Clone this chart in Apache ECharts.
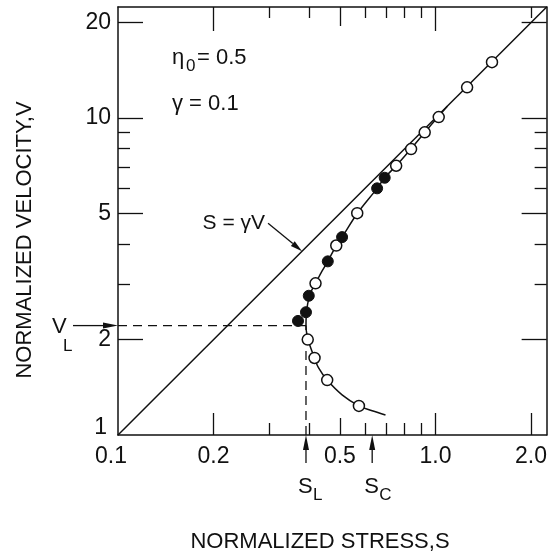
<!DOCTYPE html>
<html><head><meta charset="utf-8">
<script src="https://cdn.jsdelivr.net/npm/echarts@6/dist/echarts.min.js"></script>
<style>html,body{margin:0;padding:0;background:#fff}#c{width:550px;height:556px}</style>
</head><body><div id="c"></div>
<script>
// ---- axis ranges and ticks ----
const xRange = [0.1, 2.24];
const yRange = [1, 22.4];
const xLabelValues = [0.1, 0.2, 0.5, 1.0, 2.0];
const xLabelTexts = ['0.1', '0.2', '0.5', '1.0', '2.0'];
const xMajorTicks = [0.2, 1.0, 2.0];
const xMidTicks = [0.5];
const xMinorTicks = [0.3, 0.4, 0.6, 0.7, 0.8, 0.9];
const xTopMajorTicks = [0.2, 1.0];
const xTopMinorTicks = [0.3, 0.4, 0.6, 0.7, 0.8, 0.9, 2.0];
const yLabelValues = [1, 2, 5, 10, 20];
const yLabelTexts = ['1', '2', '5', '10', '20'];
const yMajorTicks = [2, 5, 10, 20];
const yMinorTicks = [3, 4, 6, 7, 8, 9];

// ---- data ----
const lineSV = [[0.1, 1], [2.24, 22.4]];            // S = gamma V, gamma = 0.1
const curveS = [0.696, 0.632, 0.574, 0.508, 0.456, 0.428, 0.416, 0.402, 0.394, 0.391, 0.392, 0.396, 0.405, 0.419, 0.44, 0.458, 0.487, 0.508, 0.567, 0.655, 0.692, 0.752, 0.838, 0.925, 1.02, 1.09];
const curveV = [1.157, 1.193, 1.235, 1.338, 1.49, 1.63, 1.75, 1.92, 2.06, 2.21, 2.40, 2.60, 2.82, 3.01, 3.30, 3.53, 3.96, 4.21, 5.0, 6.0, 6.48, 7.07, 8.0, 9.0, 10.1, 10.9];
const openS = [1.507, 1.258, 1.024, 0.925, 0.838, 0.752, 0.567, 0.487, 0.419, 0.396, 0.416, 0.456, 0.574];
const openV = [15.0, 12.5, 10.07, 9.01, 7.98, 7.07, 5.01, 3.96, 3.01, 2.0, 1.75, 1.49, 1.235];
const filledS = [0.692, 0.655, 0.508, 0.458, 0.399, 0.391, 0.369];
const filledV = [6.48, 6.0, 4.21, 3.53, 2.75, 2.44, 2.29];
const S_L = 0.391, V_L = 2.214, S_C = 0.632;
const arrowTargetSV = [0.38, 3.8];

const INK = '#111';
const FONT = 'Liberation Sans, Arial, sans-serif';

const zip = (a, b) => a.map((v, i) => [v, b[i]]);

function xAx(pos, ticks, len, showLine, label) {
  return {
    type: 'log', logBase: 10, min: xRange[0], max: xRange[1], position: pos, gridIndex: 0,
    axisLine: { show: showLine, onZero: false, lineStyle: { color: INK, width: 1.5 } },
    axisTick: { show: true, inside: true, length: len, customValues: ticks, lineStyle: { color: INK, width: 1.3 } },
    axisLabel: label || { show: false },
    splitLine: { show: false }, minorTick: { show: false }, minorSplitLine: { show: false }
  };
}
function yAx(pos, ticks, len, showLine, label) {
  return {
    type: 'log', logBase: 10, min: yRange[0], max: yRange[1], position: pos, gridIndex: 0,
    axisLine: { show: showLine, onZero: false, lineStyle: { color: INK, width: 1.5 } },
    axisTick: { show: true, inside: true, length: len, customValues: ticks, lineStyle: { color: INK, width: 1.3 } },
    axisLabel: label || { show: false },
    splitLine: { show: false }, minorTick: { show: false }, minorSplitLine: { show: false }
  };
}
const near = (a, b) => Math.abs(a - b) / b < 1e-6;

const xLabel = {
  show: true, customValues: xLabelValues, margin: 10, color: INK, fontFamily: FONT, fontSize: 23,
  formatter: v => { const i = xLabelValues.findIndex(t => near(v, t)); if (i < 0) return ''; return i === 0 ? '{a|' + xLabelTexts[i] + '}' : xLabelTexts[i]; },
  rich: { a: { fontFamily: FONT, fontSize: 23, color: INK, padding: [0, 14, 0, 0] } }
};
const yLabel = {
  show: true, customValues: yLabelValues, margin: 7, color: INK, fontFamily: FONT, fontSize: 23,
  formatter: v => { const i = yLabelValues.findIndex(t => near(v, t)); if (i < 0) return ''; return i === 0 ? '{a|' + yLabelTexts[i] + '}' : yLabelTexts[i]; },
  rich: { a: { fontFamily: FONT, fontSize: 23, color: INK, padding: [0, 4, 14, 0] } }
};

const chart = echarts.init(document.getElementById('c'), null, { renderer: 'canvas' });
chart.setOption({
  animation: false,
  backgroundColor: '#fff',
  grid: { left: 118, right: 2, top: 7, bottom: 121, containLabel: false },
  xAxis: [
    xAx('bottom', xMajorTicks, 22, true, xLabel),
    xAx('bottom', xMidTicks, 17, false),
    xAx('bottom', xMinorTicks, 12, false),
    xAx('top', xTopMajorTicks, 24, true),
    xAx('top', xMidTicks, 19, false),
    xAx('top', xTopMinorTicks, 11, false)
  ],
  yAxis: [
    yAx('left', yMajorTicks, 25, true, yLabel),
    yAx('left', yMinorTicks, 12, false),
    yAx('right', yMajorTicks, 25, true),
    yAx('right', yMinorTicks, 12, false)
  ],
  series: [
    { type: 'line', data: lineSV, symbol: 'none', lineStyle: { color: INK, width: 1.5 }, z: 2, silent: true },
    { type: 'line', data: zip(curveS, curveV), smooth: 0.35, symbol: 'none', lineStyle: { color: INK, width: 1.5 }, z: 2, silent: true },
    { type: 'line', data: [[xRange[0], V_L], [S_L, V_L]], symbol: 'none', lineStyle: { color: INK, width: 1.3, type: [9, 6] }, z: 1, silent: true },
    { type: 'line', data: [[S_L, yRange[0]], [S_L, V_L]], symbol: 'none', lineStyle: { color: INK, width: 1.3, type: [9, 6] }, z: 1, silent: true },
    { type: 'scatter', data: zip(openS, openV), symbol: 'circle', symbolSize: 11, itemStyle: { color: '#fff', borderColor: INK, borderWidth: 1.5, opacity: 1 }, z: 5, silent: true },
    { type: 'scatter', data: zip(filledS, filledV), symbol: 'circle', symbolSize: 11, itemStyle: { color: INK, borderColor: INK, borderWidth: 1, opacity: 1 }, z: 5, silent: true }
  ]
});

// ---- annotations anchored through the axes ----
const px = p => chart.convertToPixel({ xAxisIndex: 0, yAxisIndex: 0 }, p);
function arrow(x1, y1, x2, y2, head, halfW) {
  const dx = x2 - x1, dy = y2 - y1, L = Math.hypot(dx, dy), ux = dx / L, uy = dy / L;
  const bx = x2 - ux * head, by = y2 - uy * head;
  return [
    { type: 'line', shape: { x1, y1, x2: bx, y2: by }, style: { stroke: INK, lineWidth: 1.3 }, z: 10 },
    { type: 'polygon', shape: { points: [[x2, y2], [bx - uy * halfW, by + ux * halfW], [bx + uy * halfW, by - ux * halfW]] }, style: { fill: INK }, z: 10 }
  ];
}
function txt(text, x, y, size, align, extra) {
  return Object.assign({ type: 'text', x, y, z: 10, style: { text, fill: INK, fontFamily: FONT, fontSize: size, align: align || 'left', verticalAlign: 'middle' } }, extra || {});
}

const pVL = px([xRange[0], V_L]);
const pSL = px([S_L, yRange[0]]);
const pSC = px([S_C, yRange[0]]);
const pT = px(arrowTargetSV);

const g = [];
g.push(...arrow(pVL[0] - 45, pVL[1], pVL[0], pVL[1], 15, 3));
g.push(...arrow(pSL[0], pSL[1] + 28, pSL[0], pSL[1], 15, 3));
g.push(...arrow(pSC[0], pSC[1] + 28, pSC[0], pSC[1], 15, 3));
g.push(...arrow(pT[0] - 34, pT[1] - 28, pT[0], pT[1], 12, 3));

g.push(txt('V', 52, 327, 22));
g.push(txt('L', 63, 346, 17));
g.push(txt('S', pSL[0] - 8, 487, 22));
g.push(txt('L', pSL[0] + 7, 495, 17));
g.push(txt('S', pSC[0] - 8, 487, 22));
g.push(txt('C', pSC[0] + 7, 495, 17));
g.push(txt('S = γV', pT[0] - 37, pT[1] - 28, 21, 'right'));
g.push(txt('η', 172, 58, 22));
g.push(txt('0', 186, 66, 17));
g.push(txt('= 0.5', 197, 58, 22));
g.push(txt('γ = 0.1', 172, 104, 22));
g.push(txt('NORMALIZED STRESS,S', 320, 542, 22, 'center'));
g.push(txt('NORMALIZED VELOCITY,V', 25, 240, 22, 'center', { rotation: Math.PI / 2 }));

chart.setOption({ graphic: g });
</script>
</body></html>
